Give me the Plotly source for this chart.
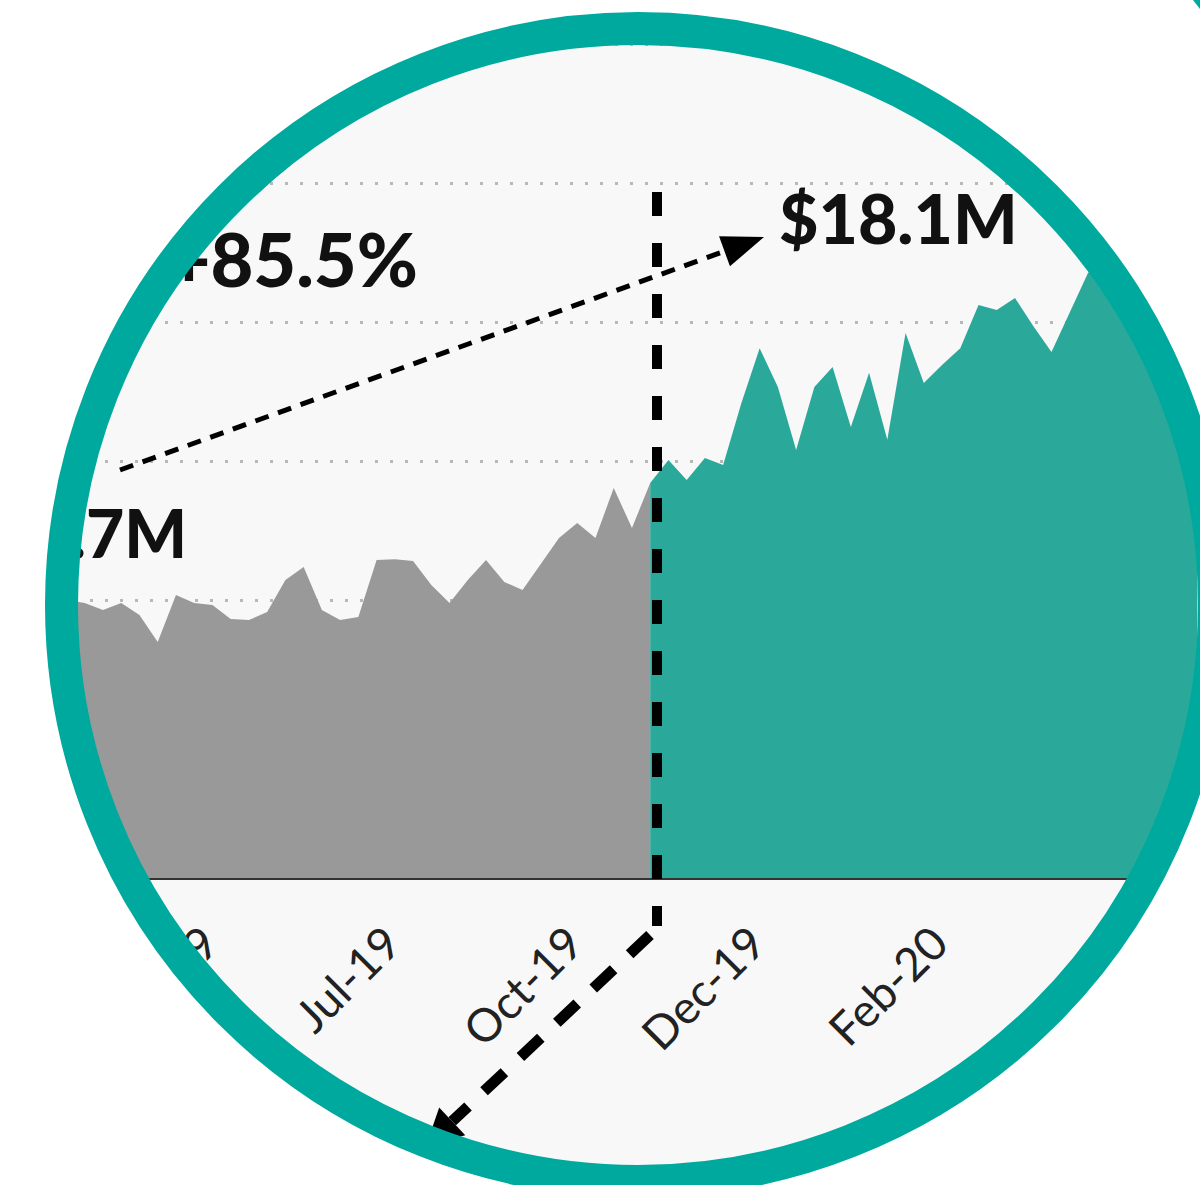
import math
import plotly.graph_objects as go

# Period index (one step per reporting period) and revenue in $M
before_x = list(range(-5, 31))
before_rev = [9.86, 10.07, 9.75, 10.00, 9.89,
              9.64, 9.89, 9.46, 8.49, 10.18, 9.89, 9.82, 9.32, 9.28, 9.57,
              10.72, 11.19, 9.64, 9.28, 9.39, 11.44, 11.47, 11.40, 10.54, 9.89,
              10.72, 11.44, 10.65, 10.36, 11.29, 12.23, 12.77, 12.23, 14.03, 12.59,
              14.21]

after_x = list(range(30, 61))
after_rev = [14.21, 15.04, 14.32, 15.11, 14.86, 17.09, 19.06, 17.66, 15.40, 17.66,
             18.38, 16.22, 18.17, 15.76, 19.60, 17.81, 18.45, 19.06, 20.61, 20.43,
             20.86, 19.86, 18.92, 20.36, 21.76, 22.30, 21.15, 21.69, 20.97, 21.50,
             21.30]

tick_pos = [5.6, 15.6, 25.6, 35.6, 45.6]
tick_text = ["Apr-19", "Jul-19", "Oct-19", "Dec-19", "Feb-20"]

label_before = "$9.7M"
label_after = "$18.1M"
label_change = "+85.5%"

W, H = 1200, 1185
BASE = 878              # pixel row of the zero line
X0_PX, STEP_PX = 103, 18.24
PX_PER_M = 27.8

GRAY = "#999999"
TEAL = "#2aa99b"
RING = "#00a99d"
BG = "#f8f8f8"

x_range = [(0 - X0_PX) / STEP_PX, (W - X0_PX) / STEP_PX]
y_range = [0, BASE / PX_PER_M]


def dx(px):
    return (px - X0_PX) / STEP_PX


def dy(py):
    return (BASE - py) / PX_PER_M


def pp(px, py):
    # pixel -> paper coordinates of the plot area
    return px / W, (BASE - py) / BASE


fig = go.Figure()
fig.add_trace(go.Scatter(x=before_x, y=before_rev, mode="lines", fill="tozeroy",
                         fillcolor=GRAY, line=dict(width=0, color=GRAY),
                         hoverinfo="skip", showlegend=False))
fig.add_trace(go.Scatter(x=after_x, y=after_rev, mode="lines", fill="tozeroy",
                         fillcolor=TEAL, line=dict(width=0, color=TEAL),
                         hoverinfo="skip", showlegend=False))


def big(size):
    return dict(family="Lato", size=size, color="#111111", weight=900)


fig.add_trace(go.Scatter(x=[dx(187)], y=[dy(541)], mode="text", text=[label_before],
                         textposition="middle left", textfont=big(66),
                         hoverinfo="skip", showlegend=False))
fig.add_trace(go.Scatter(x=[dx(418)], y=[dy(268)], mode="text", text=[label_change],
                         textposition="middle left", textfont=big(74),
                         hoverinfo="skip", showlegend=False))
fig.add_trace(go.Scatter(x=[dx(779)], y=[dy(227)], mode="text", text=[label_after],
                         textposition="middle right", textfont=big(68),
                         hoverinfo="skip", showlegend=False))

shapes = []


def seg(p1, p2, width, dash):
    (x1, y1), (x2, y2) = pp(*p1), pp(*p2)
    shapes.append(dict(type="line", xref="paper", yref="paper", x0=x1, y0=y1, x1=x2, y1=y2,
                       line=dict(color="#000000", width=width, dash=dash), layer="above"))


def head(tail, tip, length, half):
    ux, uy = tip[0] - tail[0], tip[1] - tail[1]
    n = math.hypot(ux, uy)
    ux, uy = ux / n, uy / n
    bx, by = tip[0] - ux * length, tip[1] - uy * length
    pts = [tip, (bx - uy * half, by + ux * half), (bx + uy * half, by - ux * half)]
    path = "M " + " L ".join("%.5f,%.5f" % pp(*p) for p in pts) + " Z"
    shapes.append(dict(type="path", xref="paper", yref="paper", path=path,
                       fillcolor="#000000", line=dict(width=0), layer="above"))
    return bx, by


# vertical divider between the two periods
seg((657, 192), (657, 926), 10, "24px,27px")

# growth arrow
tip = (764, 237)
base_pt = head((120, 470), tip, 42, 16)
seg((120, 470), base_pt, 5, "14px,10px")

# lower arrow leaving the divider
tip2 = (426, 1146)
base2 = head((650, 935), tip2, 36, 19)
seg((650, 935), base2, 11, "28px,22px")

# white surround with a round window
CX, CY, R_IN, R_RING, RING_W = 638, 605, 575, 576.5, 33
outer = [(-50, -50), (W + 50, -50), (W + 50, H + 300), (-50, H + 300)]
path = "M " + " L ".join("%.5f,%.5f" % pp(*p) for p in outer) + " Z"
circ = []
for k in range(360):
    a = 2 * math.pi * k / 360
    circ.append(pp(CX + R_IN * math.cos(a), CY + R_IN * math.sin(a)))
path += " M " + " L ".join("%.5f,%.5f" % c for c in circ) + " Z"
shapes.append(dict(type="path", xref="paper", yref="paper", path=path, fillrule="evenodd",
                   fillcolor="#ffffff", line=dict(width=0), layer="above"))

# ring
xa, ya = pp(CX - R_RING, CY + R_RING)
xb, yb = pp(CX + R_RING, CY - R_RING)
shapes.append(dict(type="circle", xref="paper", yref="paper", x0=xa, y0=ya, x1=xb, y1=yb,
                   line=dict(color=RING, width=RING_W), fillcolor="rgba(0,0,0,0)",
                   layer="above"))

# corner sliver of the neighbouring ring
corner = [(1193, 0), (1200, 0), (1200, 9)]
shapes.append(dict(type="path", xref="paper", yref="paper",
                   path="M " + " L ".join("%.5f,%.5f" % pp(*p) for p in corner) + " Z",
                   fillcolor=RING, line=dict(width=0), layer="above"))

fig.update_layout(
    width=W, height=H,
    margin=dict(l=0, r=0, t=0, b=H - BASE, pad=0),
    paper_bgcolor=BG, plot_bgcolor=BG,
    shapes=shapes,
    xaxis=dict(range=x_range, tickvals=tick_pos, ticktext=tick_text, tickangle=-45,
               tickfont=dict(family="Lato", size=46, color="#222222"),
               ticks="outside", ticklen=18, tickcolor="rgba(0,0,0,0)",
               showgrid=False, zeroline=False, showline=True, linecolor="#333333",
               linewidth=2, fixedrange=True),
    yaxis=dict(range=y_range, dtick=5, showgrid=True, gridcolor="#b8b8b8", gridwidth=3,
               griddash="3px,12px", showticklabels=False, zeroline=False, ticks="",
               fixedrange=True),
    showlegend=False,
)

fig.write_html("out.html")
